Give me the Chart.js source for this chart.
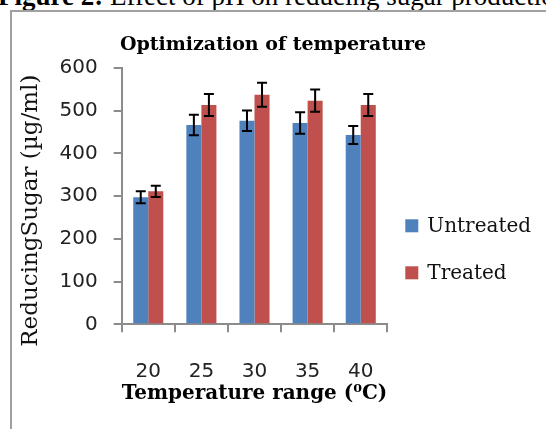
<!DOCTYPE html>
<html><head><meta charset="utf-8">
<script src="https://cdn.jsdelivr.net/npm/chart.js@4.4.0/dist/chart.umd.min.js"></script>
<style>
html,body{margin:0;padding:0;width:546px;height:429px;overflow:hidden;background:#fff;}
#cap{position:absolute;left:-2px;top:-17px;font-family:"Liberation Serif";font-size:27px;line-height:27px;white-space:nowrap;color:#000;}
#frame{position:absolute;left:10px;top:10px;width:600px;height:500px;border-left:2px solid #a0a0a0;border-top:2px solid #a0a0a0;}
#wrap{position:absolute;left:0;top:0;width:546px;height:429px;}
</style></head><body>
<div id="cap"><b>Figure 2:</b> Effect of pH on reducing sugar production</div>
<div id="frame"></div>
<div id="wrap"><canvas id="c"></canvas></div>
<script>
const categories = ['20', '25', '30', '35', '40'];
const untreated = [297, 466, 476, 471, 443];
const untreatedErr = [14, 24, 24, 25, 21];
const treated = [311, 513, 537, 523, 513];
const treatedErr = [13, 26, 28, 26, 26];
const yTicks = [0, 100, 200, 300, 400, 500, 600];
const seriesNames = ['Untreated', 'Treated'];

const errorBars = {
  id: 'errorBars',
  afterDatasetsDraw(chart) {
    const ctx = chart.ctx;
    const y = chart.scales.y;
    ctx.save();
    ctx.strokeStyle = '#000';
    ctx.lineWidth = 2;
    chart.data.datasets.forEach((ds, i) => {
      const meta = chart.getDatasetMeta(i);
      meta.data.forEach((bar, j) => {
        const v = ds.data[j], e = ds.errors[j];
        const top = y.getPixelForValue(v + e), bot = y.getPixelForValue(v - e);
        const x = bar.x, hw = 5;
        ctx.beginPath();
        ctx.moveTo(x, top); ctx.lineTo(x, bot);
        ctx.moveTo(x - hw, top); ctx.lineTo(x + hw, top);
        ctx.moveTo(x - hw, bot); ctx.lineTo(x + hw, bot);
        ctx.stroke();
      });
    });
    ctx.restore();
  }
};

const sideLegend = {
  id: 'sideLegend',
  afterDraw(chart) {
    const ctx = chart.ctx;
    const a = chart.chartArea;
    ctx.save();
    ctx.font = '20px "DejaVu Serif"';
    ctx.textBaseline = 'middle';
    ctx.textAlign = 'left';
    chart.data.datasets.forEach((ds, i) => {
      const cy = a.top + 158 + i * 47;
      const sx = a.right + 18;
      ctx.fillStyle = ds.backgroundColor;
      ctx.fillRect(sx, cy - 6.5, 13, 13);
      ctx.fillStyle = '#111';
      ctx.fillText(ds.label, sx + 22, cy + 1);
    });
    ctx.restore();
  }
};

const axisColor = '#8c8c8c';
new Chart(document.getElementById('c'), {
  type: 'bar',
  data: {
    labels: categories,
    datasets: [
      { label: seriesNames[0], data: untreated, errors: untreatedErr, backgroundColor: '#4f81bd', barPercentage: 1, categoryPercentage: 0.566 },
      { label: seriesNames[1], data: treated, errors: treatedErr, backgroundColor: '#c0504d', barPercentage: 1, categoryPercentage: 0.566 }
    ]
  },
  options: {
    responsive: true, maintainAspectRatio: false, animation: false, devicePixelRatio: 1,
    layout: { padding: 0 },
    plugins: {
      legend: { display: false },
      tooltip: { enabled: false },
      title: { display: true, text: 'Optimization of temperature', color: '#000',
        font: { family: 'DejaVu Serif', size: 19, weight: 'bold' }, padding: { top: 34, bottom: 11 } }
    },
    scales: {
      x: {
        offset: true,
        grid: { display: true, drawOnChartArea: false, drawTicks: true, tickLength: 8, color: axisColor, lineWidth: 2, offset: true },
        border: { display: true, color: axisColor, width: 2 },
        ticks: { font: { family: 'DejaVu Sans', size: 20 }, color: '#222', padding: 27, maxRotation: 0 },
        title: { display: true, text: 'Temperature range (⁰C)', color: '#000',
          font: { family: 'DejaVu Serif', size: 21, weight: 'bold' }, padding: { top: 23, bottom: 23 } },
        afterFit: s => { s.height = 429 - 324.3; }
      },
      y: {
        min: 0, max: 600,
        afterBuildTicks: s => { s.ticks = yTicks.map(v => ({ value: v })); },
        grid: { display: true, drawOnChartArea: false, drawTicks: true, tickLength: 8, color: axisColor, lineWidth: 2 },
        border: { display: true, color: axisColor, width: 2 },
        ticks: { font: { family: 'DejaVu Sans', size: 20 }, color: '#222', padding: 16 },
        title: { display: true, text: 'ReducingSugar (µg/ml)\u00a0\u00a0\u00a0\u00a0', color: '#111',
          font: { family: 'DejaVu Serif', size: 23 }, padding: { top: 17, bottom: 17 } },
        afterFit: s => { s.width = 121.7; }
      },
      yR: {
        position: 'right', display: true,
        grid: { display: false }, ticks: { display: false }, border: { display: false },
        afterFit: s => { s.width = 546 - 387.3; }
      }
    }
  },
  plugins: [errorBars, sideLegend]
});
</script>
</body></html>
